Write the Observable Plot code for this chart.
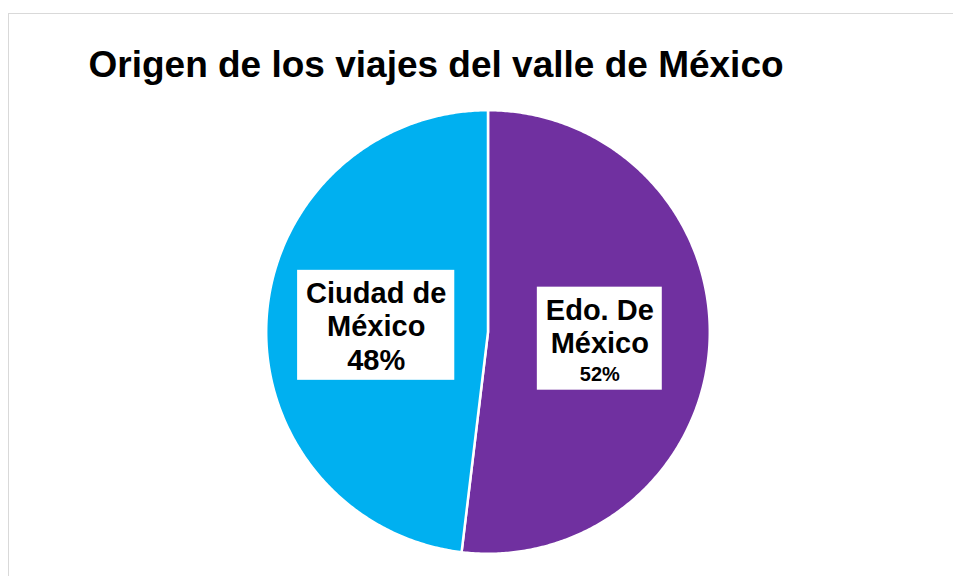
<!DOCTYPE html>
<html><head><meta charset="utf-8">
<script src="https://cdn.jsdelivr.net/npm/d3@7"></script>
<script src="https://cdn.jsdelivr.net/npm/@observablehq/plot@0.6"></script>
<style>
html,body{margin:0;padding:0;background:#fff;overflow:hidden;}
#wrap{position:relative;width:953px;height:576px;overflow:hidden;font-family:"Liberation Sans",Arial,sans-serif;}
#frame{position:absolute;left:8px;top:13px;width:1000px;height:700px;border:1px solid #d9d9d9;box-sizing:border-box;}
#chart{position:absolute;left:0;top:0;}
</style></head><body>
<div id="wrap"><div id="frame"></div><div id="chart"></div></div>
<script>
// ---- data ----
const title = "Origen de los viajes del valle de México";
const categories = ["Edo. De México", "Ciudad de México"];
const labelNames = ["Edo. De\nMéxico", "Ciudad de\nMéxico"];
const values = [51.9, 48.1];
const colors = ["#7030A0", "#00B0F0"];

// ---- style ----
const FONT = '"Liberation Sans", Arial, sans-serif';
const nameSize = 29;
const pctSizes = [20, 29];
const cx = 487.5, cy = 331.5, R = 221.8;
const labelRadius = 0.505;

const data = categories.map((c, i) => ({cat: c, value: values[i], name: labelNames[i], i}));
const total = d3.sum(values);
const arcs = d3.pie().sort(null).value(d => d.value)(data);

// slice outlines built from the pie angles
const slicePts = arcs.flatMap(a => {
  const pts = [{cat: a.data.cat, x: 0, y: 0}];
  const n = Math.max(2, Math.ceil((a.endAngle - a.startAngle) / (Math.PI / 360)));
  for (let k = 0; k <= n; ++k) {
    const t = a.startAngle + (a.endAngle - a.startAngle) * k / n;
    pts.push({cat: a.data.cat, x: Math.sin(t), y: Math.cos(t)});
  }
  return pts;
});

// label layout
const ctx = document.createElement("canvas").getContext("2d");
function textW(s, fs) { ctx.font = `bold ${fs}px ${FONT}`; return ctx.measureText(s).width; }
const pctFmt = d3.format(".0%");
const boxes = [], lines = [];
arcs.forEach(a => {
  const mid = (a.startAngle + a.endAngle) / 2;
  const lx = labelRadius * Math.sin(mid), ly = labelRadius * Math.cos(mid);
  const items = a.data.name.split("\n").map(s => ({s, fs: nameSize}));
  items.push({s: pctFmt(a.data.value / total), fs: pctSizes[a.data.i]});
  let b = 32.5; const offs = [b];
  for (let k = 1; k < items.length; ++k) { b += 0.5 * (items[k - 1].fs + items[k].fs) * 1.15; offs.push(b); }
  const H = b + 0.2 * items[items.length - 1].fs + 5;
  const W = d3.max(items, d => textW(d.s, d.fs)) + 17;
  boxes.push({x1: lx - W / 2 / R, x2: lx + W / 2 / R, y1: ly + H / 2 / R, y2: ly - H / 2 / R});
  items.forEach((it, k) => lines.push({x: lx, y: ly - (offs[k] - H / 2) / R, text: it.s, fs: it.fs}));
});

const plot = Plot.plot({
  width: 953, height: 576, margin: 0,
  x: {domain: [-1, 1], range: [cx - R, cx + R], axis: null},
  y: {domain: [-1, 1], range: [cy + R, cy - R], axis: null},
  color: {domain: categories, range: colors},
  style: {fontFamily: FONT, background: "transparent", overflow: "visible"},
  marks: [
    Plot.line(slicePts, {x: "x", y: "y", z: "cat", fill: "cat", stroke: "white", strokeWidth: 2.5, curve: "linear-closed"}),
    Plot.rect(boxes, {x1: "x1", x2: "x2", y1: "y1", y2: "y2", fill: "white"}),
    Plot.text(lines, {x: "x", y: "y", text: "text", fontSize: "fs", fontWeight: "bold", fill: "black", lineAnchor: "bottom", textAnchor: "middle"}),
    Plot.text([title], {frameAnchor: "top-left", text: d => d, dx: 88, dy: 76, lineAnchor: "bottom", textAnchor: "start", fontSize: 37, fontWeight: "bold", fill: "black"})
  ]
});
document.getElementById("chart").appendChild(plot);
</script>
</body></html>
